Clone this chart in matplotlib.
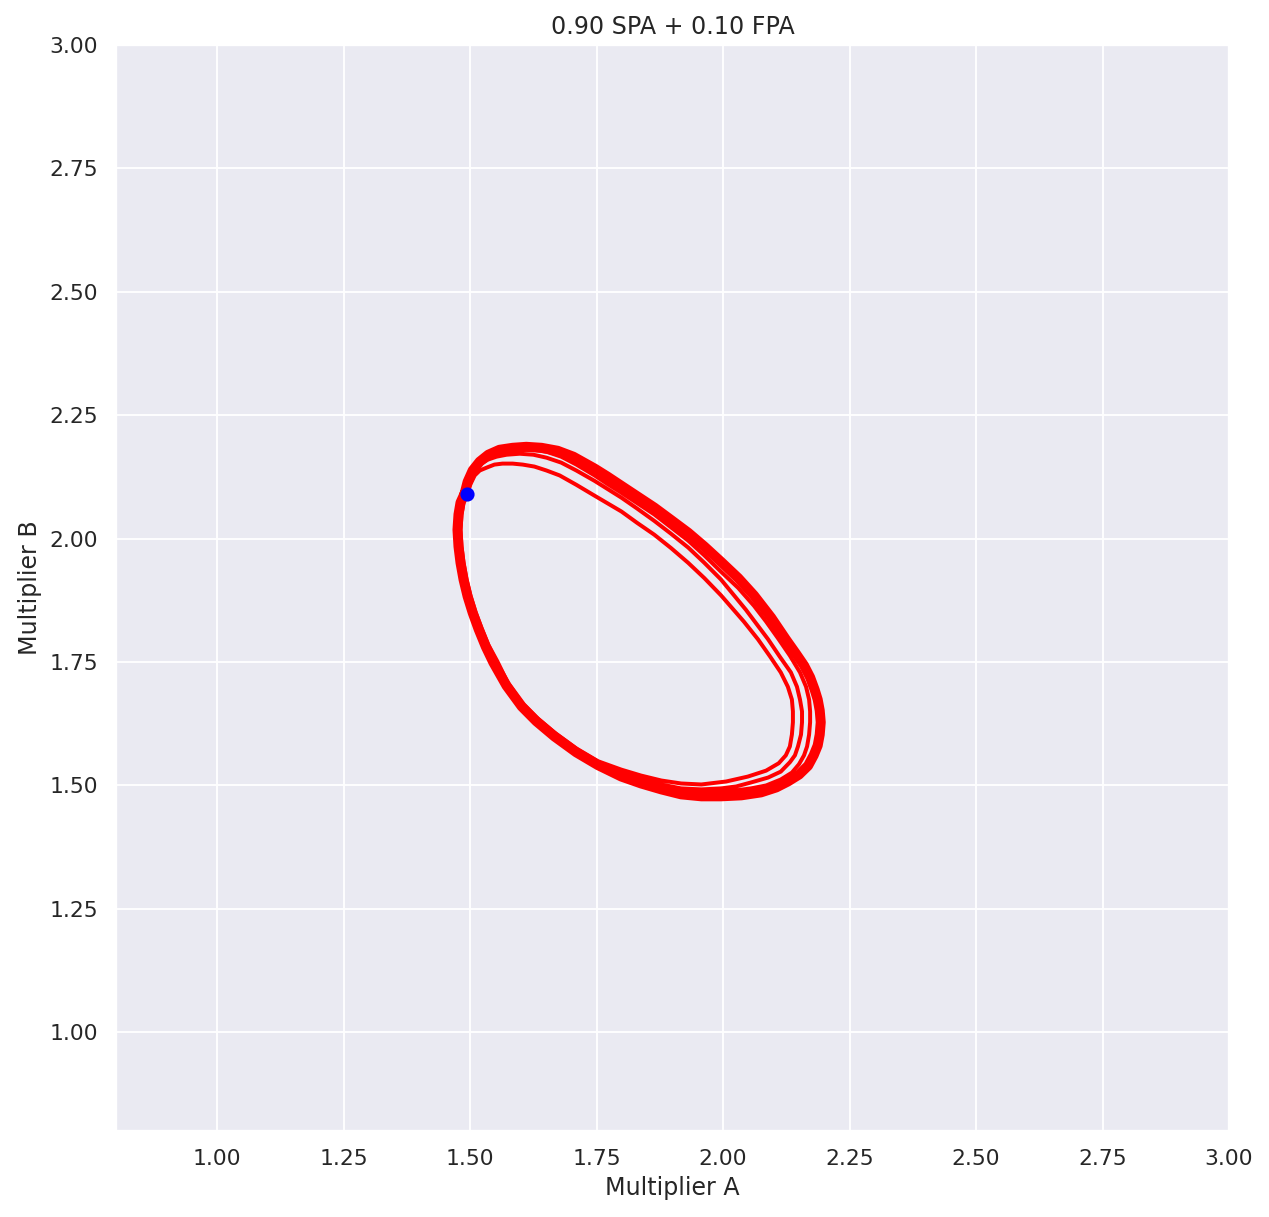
import numpy as np
import matplotlib
matplotlib.use("Agg")
import matplotlib.pyplot as plt
import seaborn as sns

# start of the trajectory
start_a = [1.493]
start_b = [2.091]

# first loop (innermost on the right, lowest at the top)
loop1_a = [1.493, 1.501, 1.509, 1.519, 1.533, 1.548, 1.564, 1.584, 1.604, 1.627,
           1.651, 1.677, 1.710, 1.746, 1.771, 1.799, 1.830, 1.864, 1.897, 1.931,
           1.963, 1.996, 2.041, 2.069, 2.093, 2.114, 2.128, 2.136, 2.138, 2.138,
           2.136, 2.132, 2.124, 2.110, 2.085, 2.049, 2.006, 1.957, 1.917, 1.878,
           1.838, 1.799, 1.753, 1.710, 1.667, 1.631, 1.602, 1.574, 1.554, 1.536,
           1.523, 1.511, 1.501, 1.493, 1.487, 1.483, 1.481, 1.483, 1.487]
loop1_b = [2.091, 2.111, 2.128, 2.138, 2.144, 2.150, 2.152, 2.152, 2.150, 2.146,
           2.138, 2.128, 2.109, 2.087, 2.072, 2.055, 2.032, 2.008, 1.981, 1.951,
           1.920, 1.885, 1.832, 1.796, 1.761, 1.729, 1.700, 1.674, 1.650, 1.628,
           1.603, 1.579, 1.561, 1.545, 1.530, 1.518, 1.508, 1.502, 1.504, 1.510,
           1.520, 1.532, 1.549, 1.575, 1.607, 1.638, 1.668, 1.709, 1.751, 1.785,
           1.818, 1.850, 1.883, 1.917, 1.951, 1.984, 2.018, 2.049, 2.073]

# second loop
loop2_a = [1.487, 1.495, 1.505, 1.519, 1.535, 1.552, 1.572, 1.598, 1.625, 1.651,
           1.680, 1.710, 1.746, 1.771, 1.799, 1.830, 1.864, 1.897, 1.931, 1.963,
           1.996, 2.045, 2.089, 2.112, 2.134, 2.146, 2.152, 2.156, 2.156, 2.154,
           2.148, 2.142, 2.132, 2.114, 2.089, 2.055, 2.026, 1.996, 1.957, 1.917,
           1.878, 1.838, 1.799, 1.753, 1.710, 1.667, 1.631, 1.602, 1.572, 1.550,
           1.533, 1.521, 1.507, 1.499, 1.491, 1.485, 1.481, 1.479, 1.481, 1.485]
loop2_b = [2.091, 2.113, 2.134, 2.150, 2.160, 2.166, 2.170, 2.172, 2.170, 2.164,
           2.154, 2.138, 2.117, 2.101, 2.083, 2.061, 2.036, 2.010, 1.982, 1.951,
           1.917, 1.856, 1.796, 1.761, 1.729, 1.700, 1.674, 1.650, 1.628, 1.603,
           1.579, 1.561, 1.547, 1.528, 1.516, 1.506, 1.498, 1.494, 1.492, 1.494,
           1.502, 1.514, 1.528, 1.545, 1.571, 1.603, 1.634, 1.664, 1.706, 1.751,
           1.783, 1.816, 1.850, 1.883, 1.917, 1.951, 1.984, 2.018, 2.049, 2.073]

# third loop
loop3_a = [1.487, 1.493, 1.503, 1.515, 1.531, 1.550, 1.572, 1.598, 1.625, 1.651,
           1.680, 1.710, 1.746, 1.771, 1.799, 1.830, 1.864, 1.897, 1.931, 1.963,
           1.996, 2.030, 2.061, 2.085, 2.110, 2.132, 2.152, 2.164, 2.170, 2.172,
           2.172, 2.170, 2.166, 2.160, 2.150, 2.136, 2.114, 2.085, 2.055, 2.026,
           1.996, 1.957, 1.917, 1.878, 1.838, 1.799, 1.753, 1.710, 1.667, 1.631,
           1.602, 1.572, 1.548, 1.531, 1.519, 1.505, 1.497, 1.489, 1.483, 1.479,
           1.477, 1.479, 1.483]
loop3_b = [2.091, 2.113, 2.136, 2.154, 2.166, 2.174, 2.178, 2.180, 2.180, 2.176,
           2.166, 2.150, 2.128, 2.111, 2.093, 2.072, 2.049, 2.023, 1.996, 1.966,
           1.933, 1.900, 1.864, 1.832, 1.796, 1.763, 1.729, 1.700, 1.674, 1.650,
           1.628, 1.603, 1.579, 1.561, 1.543, 1.526, 1.512, 1.500, 1.494, 1.490,
           1.486, 1.486, 1.488, 1.496, 1.508, 1.522, 1.540, 1.569, 1.601, 1.632,
           1.662, 1.704, 1.749, 1.781, 1.816, 1.850, 1.883, 1.917, 1.951, 1.984,
           2.018, 2.049, 2.073]

# the settled cycle (many loops lying on top of each other)
cycle_a = [1.489, 1.495, 1.505, 1.519, 1.536, 1.558, 1.584, 1.611, 1.641, 1.673,
           1.704, 1.746, 1.771, 1.799, 1.830, 1.864, 1.897, 1.931, 1.963, 1.996,
           2.030, 2.061, 2.095, 2.124, 2.144, 2.160, 2.172, 2.181, 2.187, 2.191,
           2.193, 2.191, 2.187, 2.179, 2.168, 2.150, 2.128, 2.105, 2.075, 2.036,
           1.996, 1.957, 1.917, 1.878, 1.838, 1.799, 1.753, 1.710, 1.667, 1.631,
           1.602, 1.572, 1.546, 1.531, 1.517, 1.505, 1.495, 1.487, 1.481, 1.477,
           1.475, 1.477, 1.481, 1.489]
cycle_b = [2.091, 2.115, 2.138, 2.156, 2.170, 2.180, 2.184, 2.186, 2.184, 2.178,
           2.166, 2.142, 2.126, 2.107, 2.086, 2.063, 2.038, 2.012, 1.984, 1.953,
           1.920, 1.885, 1.840, 1.796, 1.767, 1.743, 1.719, 1.694, 1.674, 1.652,
           1.628, 1.603, 1.581, 1.561, 1.540, 1.522, 1.508, 1.496, 1.486, 1.480,
           1.478, 1.478, 1.482, 1.492, 1.504, 1.518, 1.541, 1.567, 1.599, 1.630,
           1.660, 1.702, 1.749, 1.781, 1.816, 1.850, 1.883, 1.917, 1.951, 1.984,
           2.018, 2.049, 2.073, 2.091]

sns.set_theme(style="darkgrid", font_scale=1.05)

dpi = 136
fig = plt.figure(figsize=(1269 / dpi, 1217 / dpi), dpi=dpi)
ax = fig.add_axes([116 / 1269, 1 - 1131 / 1217, (1229 - 116) / 1269, (1131 - 45) / 1217])

traj_a = np.concatenate([loop1_a, loop2_a, loop3_a])
traj_b = np.concatenate([loop1_b, loop2_b, loop3_b])
ax.plot(traj_a, traj_b, color="red", lw=2.1, solid_joinstyle="round")
ax.plot(cycle_a, cycle_b, color="red", lw=5.3, solid_joinstyle="round",
        solid_capstyle="round")
ax.plot(start_a, start_b, "o", color="blue", ms=6.5, zorder=5)

ax.set_xlim(0.8, 3.0)
ax.set_ylim(0.8, 3.0)
ax.set_xticks(np.arange(1.0, 3.01, 0.25))
ax.set_yticks(np.arange(1.0, 3.01, 0.25))
ax.set_xlabel("Multiplier A")
ax.set_ylabel("Multiplier B")
ax.set_title("0.90 SPA + 0.10 FPA")

fig.savefig("out.png", dpi=dpi)
